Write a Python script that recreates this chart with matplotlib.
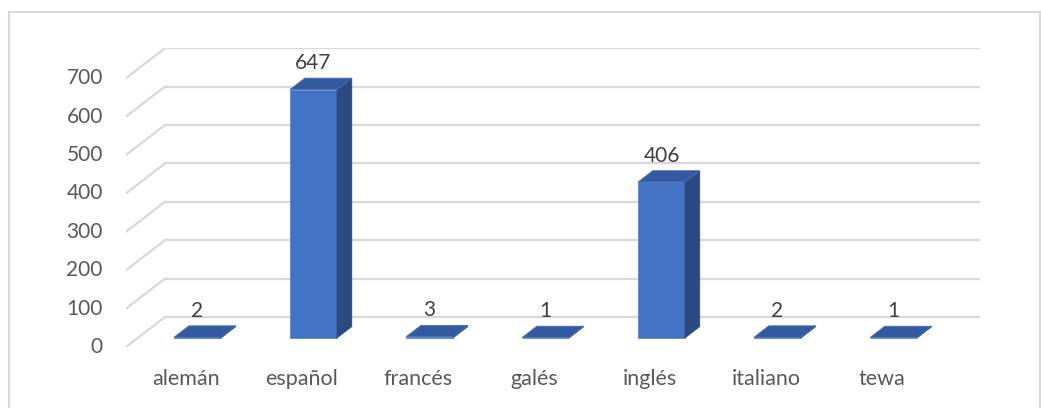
import matplotlib
matplotlib.use("Agg")
import matplotlib.pyplot as plt
from matplotlib.patches import Polygon, Rectangle

# datos
idiomas = ["alemán", "español", "francés", "galés", "inglés", "italiano", "tewa"]
valores = [2, 647, 3, 1, 406, 2, 1]
ticks_y = [0, 100, 200, 300, 400, 500, 600, 700]

plt.rcParams['font.family'] = ['Lato', 'DejaVu Sans']

fig = plt.figure(figsize=(10.41, 4.08), dpi=100)
W, H = 1041, 408
# ejes: plano frontal en y=347 px, pared trasera hasta 980 px
ax = fig.add_axes([126 / W, (H - 347) / H, (980 - 126) / W, (347 - 48) / H])
x0, x1 = -0.516, 6.847
ax.set_xlim(x0, x1)
ax.set_ylim(0, 778.6)
ax.axis("off")

# profundidad de la pared (unidades de datos)
DX, DY = 0.336, 78.1
grid_col = "#d9d9d9"
txt_col = "#595959"

for v in ticks_y:
    ax.plot([x0 + DX, x1], [v + DY, v + DY], color=grid_col, lw=1.6, zorder=1)
    ax.plot([x0, x0 + DX], [v, v + DY], color=grid_col, lw=1.6, zorder=1)
    ax.text(x0 - 0.2, v, str(v), ha="right", va="center", fontsize=15,
            color=txt_col)

# barras pseudo 3D
f0, f1 = 0.30, 0.68
ancho = 0.405
front = "#4472C4"
top = "#335AA1"
side = "#2B4A82"
for i, (nombre, val) in enumerate(zip(idiomas, valores)):
    xl = i - ancho / 2 + f0 * DX
    xr = xl + ancho
    yb = f0 * DY
    dx = (f1 - f0) * DX
    dy = (f1 - f0) * DY
    ax.add_patch(Rectangle((xl, yb), ancho, val, facecolor=front,
                           edgecolor="#5b86d0", lw=0.6, zorder=3))
    ax.add_patch(Polygon([(xr, yb), (xr + dx, yb + dy), (xr + dx, yb + dy + val),
                          (xr, yb + val)], closed=True, facecolor=side,
                         edgecolor=side, lw=0.5, zorder=3))
    ax.add_patch(Polygon([(xl, yb + val), (xr, yb + val), (xr + dx, yb + dy + val),
                          (xl + dx, yb + dy + val)], closed=True, facecolor=top,
                         edgecolor="#4a70b8", lw=0.6, zorder=4))
    ax.text((xl + xr) / 2, yb + dy + val + 39, str(val), ha="center",
            va="center", fontsize=15, color="#404040", zorder=5)
    ax.text(i, -83, nombre, ha="center", va="center", fontsize=15.5,
            color=txt_col)

# borde del área del gráfico
fig.patches.append(Rectangle((9 / W, -0.05), (1040 - 9) / W, (H - 12) / H + 0.05,
                             transform=fig.transFigure, fill=False,
                             edgecolor="#d9d9d9", lw=1.5))

fig.savefig("out.png", dpi=100)
